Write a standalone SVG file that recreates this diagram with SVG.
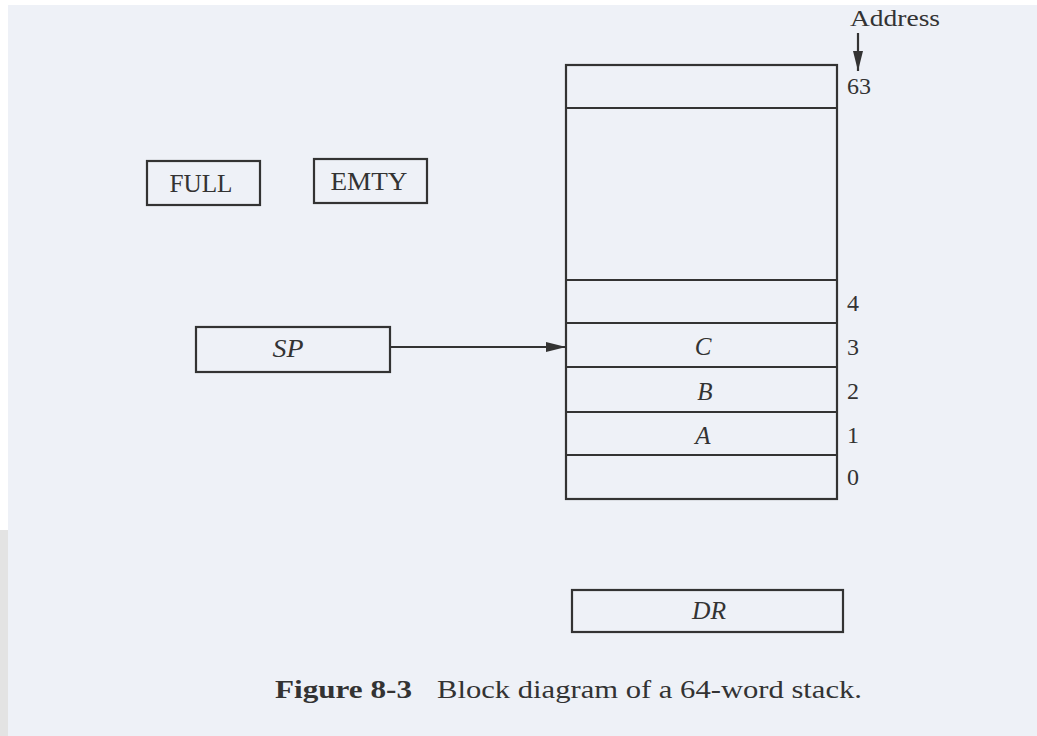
<svg xmlns="http://www.w3.org/2000/svg" width="1037" height="736" viewBox="0 0 1037 736">
  <defs>
    <style>
      .box { fill: none; stroke: #333; stroke-width: 2.2; }
      .wire { fill: none; stroke: #333; stroke-width: 2.2; }
      .lbl { font-family: "Liberation Serif", "DejaVu Serif", serif; fill: #333; }
      .up { font-size: 25px; text-anchor: middle; }
      .it { font-size: 25px; font-style: italic; text-anchor: middle; }
      .num { font-size: 24px; }
      .cap { font-size: 25px; }
    </style>
    <marker id="head" viewBox="0 0 20 10" refX="20" refY="5" markerWidth="20" markerHeight="10" markerUnits="userSpaceOnUse" orient="auto">
      <path d="M0,0 L20,5 L0,10 Z" fill="#333"/>
    </marker>
  </defs>

  <!-- page -->
  <rect x="0" y="0" width="1037" height="736" fill="#ffffff"/>
  <rect x="8" y="5" width="1029" height="731" fill="#eef1f7"/>
  <rect x="0" y="530" width="8" height="206" fill="#e3e3e3"/>

  <!-- status flags -->
  <g id="full">
    <rect class="box" x="147" y="161" width="113" height="44"/>
    <text class="lbl up" x="201" y="192" textLength="63" lengthAdjust="spacingAndGlyphs">FULL</text>
  </g>
  <g id="emty">
    <rect class="box" x="314" y="159" width="113" height="44"/>
    <text class="lbl up" x="369" y="190" textLength="77" lengthAdjust="spacingAndGlyphs">EMTY</text>
  </g>

  <!-- stack pointer -->
  <g id="sp">
    <rect class="box" x="196" y="327" width="194" height="45"/>
    <text class="lbl it" x="288" y="357" textLength="31" lengthAdjust="spacingAndGlyphs">SP</text>
  </g>

  <!-- 64-word stack memory -->
  <g id="stack">
    <rect class="box" x="566" y="65" width="271" height="434"/>
    <line class="wire" x1="566" y1="108" x2="837" y2="108"/>
    <line class="wire" x1="566" y1="280" x2="837" y2="280"/>
    <line class="wire" x1="566" y1="323" x2="837" y2="323"/>
    <line class="wire" x1="566" y1="367" x2="837" y2="367"/>
    <line class="wire" x1="566" y1="412" x2="837" y2="412"/>
    <line class="wire" x1="566" y1="455" x2="837" y2="455"/>
    <text class="lbl it" x="703" y="355">C</text>
    <text class="lbl it" x="705" y="400">B</text>
    <text class="lbl it" x="703" y="444">A</text>
  </g>

  <!-- address labels -->
  <g id="address">
    <text class="lbl num" x="850" y="26" textLength="90" lengthAdjust="spacingAndGlyphs">Address</text>
    <text class="lbl num" x="847" y="94">63</text>
    <text class="lbl num" x="847" y="311">4</text>
    <text class="lbl num" x="847" y="355">3</text>
    <text class="lbl num" x="847" y="399">2</text>
    <text class="lbl num" x="847" y="443">1</text>
    <text class="lbl num" x="847" y="485">0</text>
  </g>

  <!-- data register -->
  <g id="dr">
    <rect class="box" x="572" y="590" width="271" height="42"/>
    <text class="lbl it" x="709" y="619" textLength="34" lengthAdjust="spacingAndGlyphs">DR</text>
  </g>

  <!-- connectors -->
  <g id="connectors">
    <line class="wire" x1="390" y1="347" x2="566" y2="347" marker-end="url(#head)"/>
    <line class="wire" x1="858" y1="33" x2="858" y2="71" marker-end="url(#head)"/>
  </g>

  <!-- caption -->
  <g id="caption">
    <text class="lbl cap" x="275" y="698" font-weight="bold" textLength="137" lengthAdjust="spacingAndGlyphs">Figure 8-3</text>
    <text class="lbl cap" x="437" y="698" textLength="425" lengthAdjust="spacingAndGlyphs">Block diagram of a 64-word stack.</text>
  </g>
</svg>
